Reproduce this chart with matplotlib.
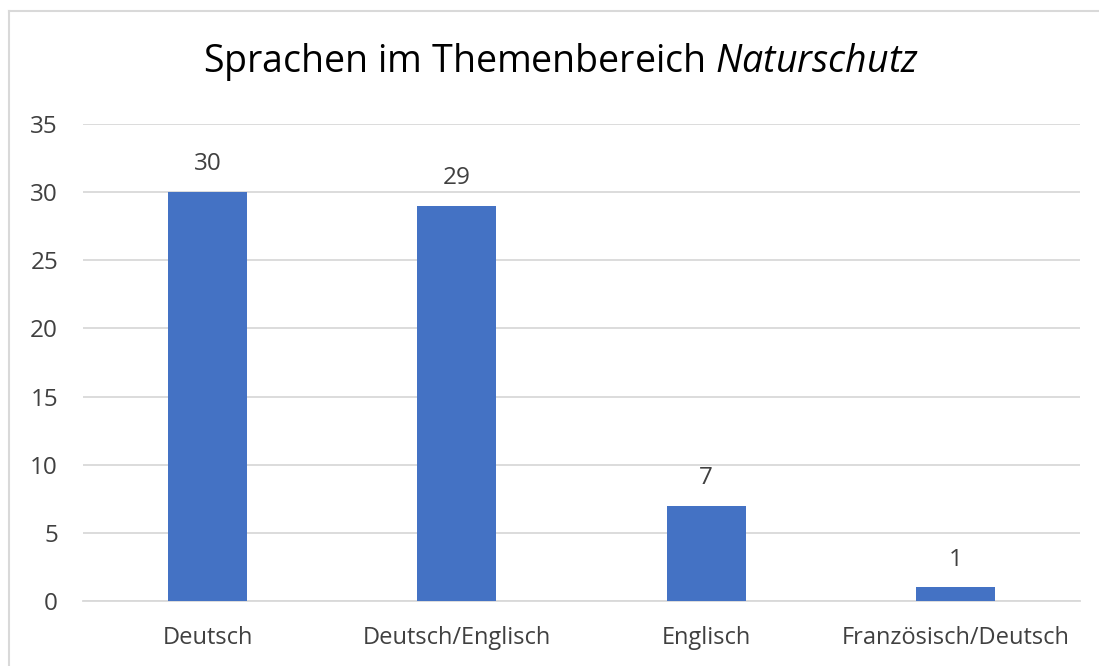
import matplotlib.pyplot as plt
from matplotlib.lines import Line2D

categories = ["Deutsch", "Deutsch/Englisch", "Englisch", "Französisch/Deutsch"]
counts = [30, 29, 7, 1]
yticks = [0, 5, 10, 15, 20, 25, 30, 35]

plt.rcParams['font.family'] = ['Open Sans', 'DejaVu Sans']
plt.rcParams['mathtext.fontset'] = 'custom'
plt.rcParams['mathtext.rm'] = 'Open Sans'
plt.rcParams['mathtext.it'] = 'Open Sans:italic'

W, H = 1099, 666
fig = plt.figure(figsize=(W / 100, H / 100), dpi=100)
# light frame of the chart area, only top and left edges are in the crop
fig.lines.append(Line2D([8.5 / W, 8.5 / W], [0, (H - 11) / H], transform=fig.transFigure,
                        color='#d9d9d9', linewidth=1.5))
fig.lines.append(Line2D([8.5 / W, 1], [(H - 11) / H, (H - 11) / H], transform=fig.transFigure,
                        color='#d9d9d9', linewidth=1.5))

ax = fig.add_axes([83 / W, 65 / H, (1080 - 83) / W, (601 - 124) / H])
x = range(len(categories))
ax.bar(x, counts, width=0.317, color='#4472c4', zorder=3)
for i, v in zip(x, counts):
    ax.annotate(str(v), (i, v), xytext=(0, 20), textcoords='offset points',
                ha='center', va='center', fontsize=17.5, color='#404040')

ax.set_xlim(-0.5, len(categories) - 0.5)
ax.set_ylim(0, 35)
ax.set_yticks(yticks)
ax.set_xticks(list(x))
ax.set_xticklabels(categories)
ax.grid(axis='y', color='#d9d9d9', linewidth=1.3, zorder=0)
for s in ['top', 'right', 'left']:
    ax.spines[s].set_visible(False)
ax.spines['bottom'].set_color('#d9d9d9')
ax.spines['bottom'].set_linewidth(1.3)
ax.tick_params(axis='both', length=0, labelsize=17.5, labelcolor='#404040')
ax.tick_params(axis='x', labelsize=17, pad=18)
ax.tick_params(axis='y', pad=18)

fig.text(561 / W, (H - 62) / H, r"Sprachen im Themenbereich $\mathit{Naturschutz}$",
         ha='center', va='center', fontsize=27, color='#000000')

fig.savefig('out.png', dpi=100)
